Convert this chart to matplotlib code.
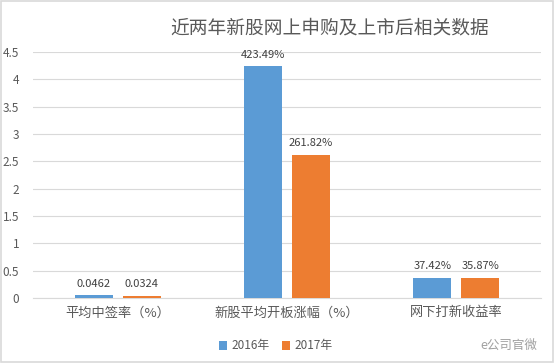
import matplotlib.pyplot as plt
import numpy as np
from matplotlib.patches import Rectangle

plt.rcParams['font.family'] = ['Noto Sans CJK SC', 'DejaVu Sans']

categories = ['平均中签率（%）', '新股平均开板涨幅（%）', '网下打新收益率']
series_names = ['2016年', '2017年']
values_2016 = [0.0462, 4.2349, 0.3742]
values_2017 = [0.0324, 2.6182, 0.3587]
labels_2016 = ['0.0462', '423.49%', '37.42%']
labels_2017 = ['0.0324', '261.82%', '35.87%']
yticks = [0, 0.5, 1, 1.5, 2, 2.5, 3, 3.5, 4, 4.5]
ytick_labels = ['0', '0.5', '1', '1.5', '2', '2.5', '3', '3.5', '4', '4.5']

blue = '#5B9BD5'
orange = '#ED7D31'
text_col = '#595959'
grid_col = '#D9D9D9'

fig = plt.figure(figsize=(5.55, 3.63), dpi=100)
ax = fig.add_axes([33 / 555, 1 - 298 / 363, 508 / 555, 246 / 363])

x = np.arange(len(categories))
w = 0.224
off = 0.142
b1 = ax.bar(x - off, values_2016, w, color=blue, label=series_names[0], zorder=3)
b2 = ax.bar(x + off, values_2017, w, color=orange, label=series_names[1], zorder=3)
ax.bar_label(b1, labels=labels_2016, padding=5, fontsize=8, color='#404040')
ax.bar_label(b2, labels=labels_2017, padding=5, fontsize=8, color='#404040')

ax.set_xlim(-0.5, 2.5)
ax.set_ylim(0, 4.5)
ax.set_yticks(yticks)
ax.set_yticklabels(ytick_labels, fontsize=8.5, color=text_col)
ax.set_xticks(x)
ax.set_xticklabels(categories, fontsize=9.5, color=text_col)
ax.tick_params(axis='both', length=0)
ax.tick_params(axis='y', pad=10)
ax.tick_params(axis='x', pad=6)
ax.grid(axis='y', color=grid_col, linewidth=0.8, zorder=0)
for s in ['top', 'right', 'left']:
    ax.spines[s].set_visible(False)
ax.spines['bottom'].set_color(grid_col)

fig.text(330 / 555, 1 - 28 / 363, '近两年新股网上申购及上市后相关数据', fontsize=13.5,
         color=text_col, ha='center', va='center')

leg = fig.legend(loc='center', bbox_to_anchor=(276 / 555, 1 - 346 / 363), ncol=2,
                 frameon=False, fontsize=8.5, handlelength=0.7, handleheight=0.7,
                 handletextpad=0.4, columnspacing=1.0)
for t in leg.get_texts():
    t.set_color(text_col)

fig.text(537 / 555, 1 - 345 / 363, 'e公司官微', fontsize=9, color='#A0A0A0',
         ha='right', va='center')

fig.patches.append(Rectangle((0.002, 0.003), 0.995, 0.994, transform=fig.transFigure,
                             fill=False, edgecolor=grid_col, linewidth=1.2))

fig.savefig('out.png', dpi=100)
